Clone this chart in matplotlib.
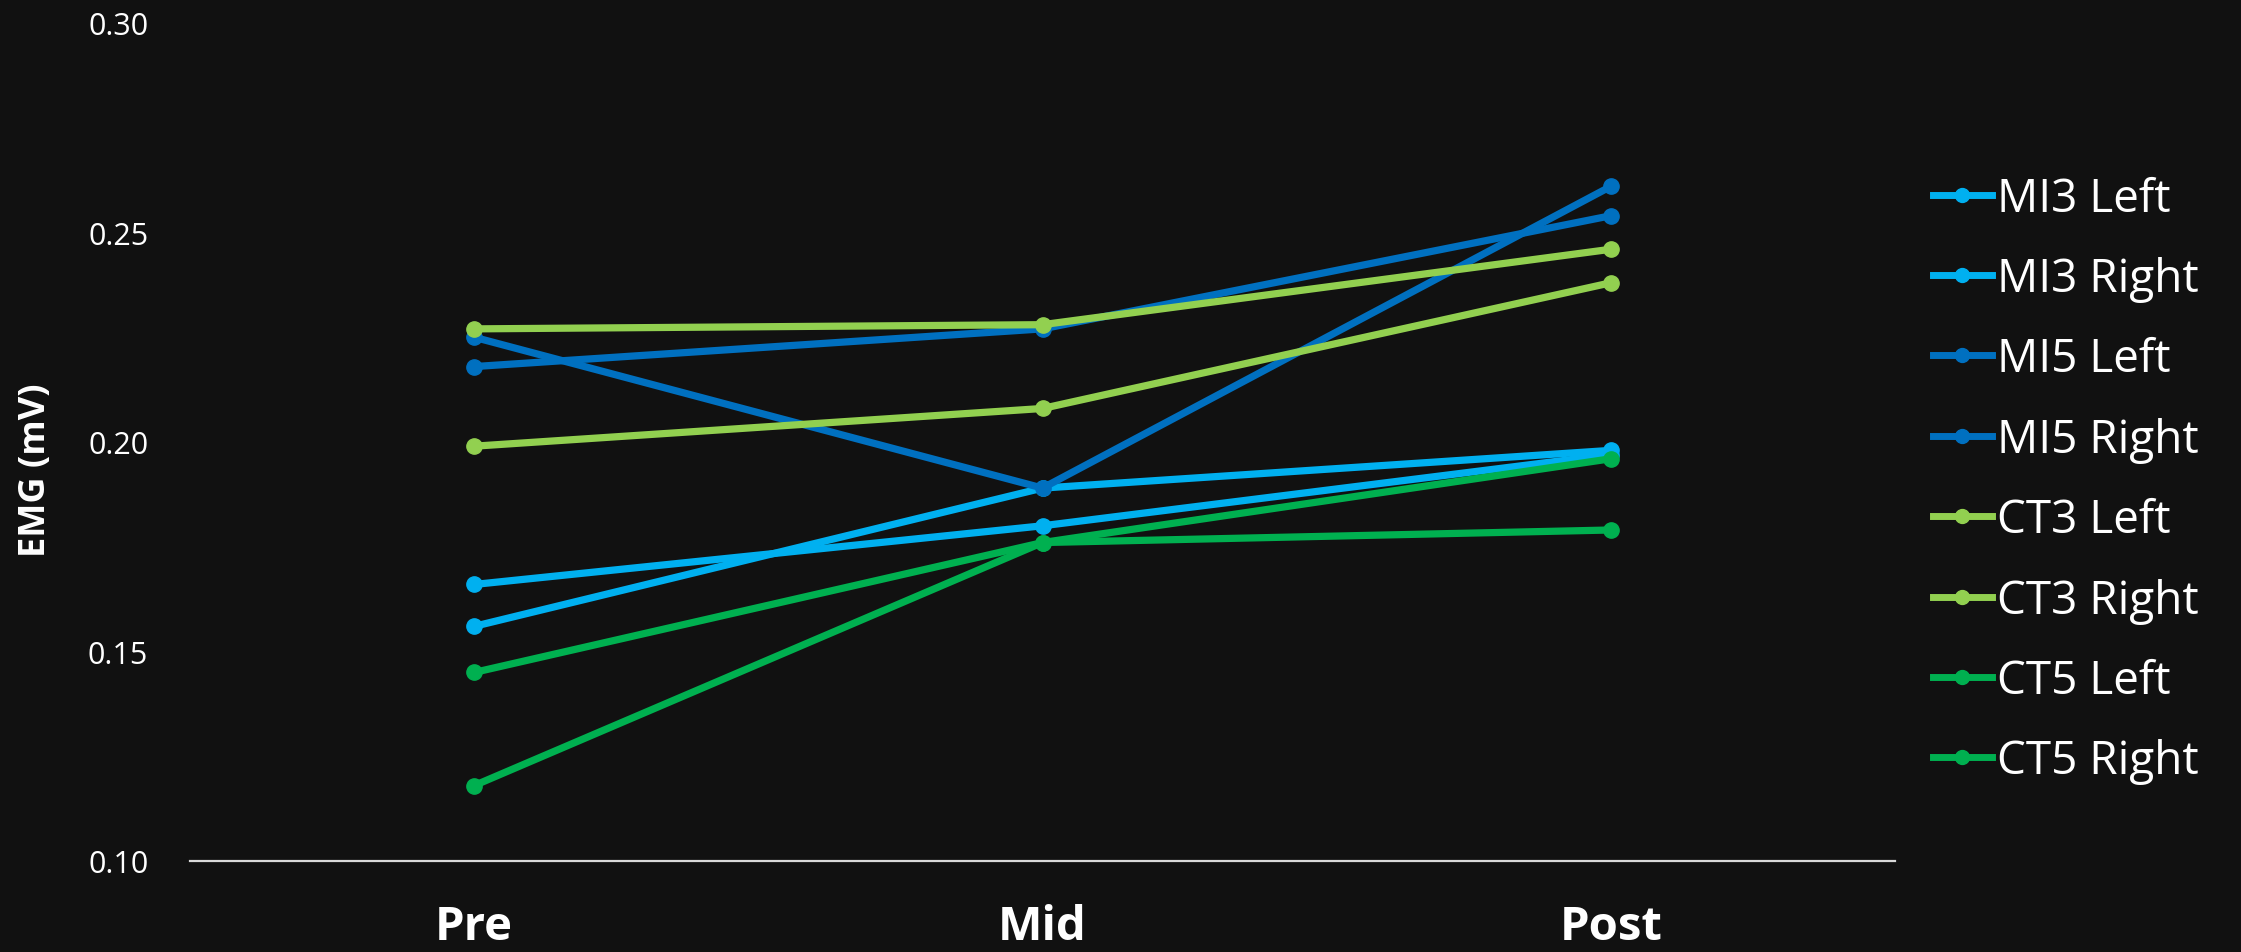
import matplotlib
matplotlib.use("Agg")
import matplotlib.pyplot as plt
from matplotlib.lines import Line2D

# EMG amplitude per session
categories = ["Pre", "Mid", "Post"]
series_names = ["MI3 Left", "MI3 Right", "MI5 Left", "MI5 Right",
                "CT3 Left", "CT3 Right", "CT5 Left", "CT5 Right"]
mi3_left = [0.166, 0.180, 0.197]
mi3_right = [0.156, 0.189, 0.198]
mi5_left = [0.225, 0.189, 0.261]
mi5_right = [0.218, 0.227, 0.254]
ct3_left = [0.227, 0.228, 0.246]
ct3_right = [0.199, 0.208, 0.238]
ct5_left = [0.145, 0.176, 0.196]
ct5_right = [0.118, 0.176, 0.179]
y_ticks = [0.10, 0.15, 0.20, 0.25, 0.30]

series_values = [mi3_left, mi3_right, mi5_left, mi5_right,
                 ct3_left, ct3_right, ct5_left, ct5_right]
colors = ["#00B0F0", "#00B0F0", "#0070C0", "#0070C0",
          "#92D050", "#92D050", "#00B050", "#00B050"]

BG = "#111111"
plt.rcParams["font.family"] = ["Open Sans", "DejaVu Sans"]

W, H = 2241, 953
fig = plt.figure(figsize=(W / 100, H / 100), dpi=100, facecolor=BG)
ax = fig.add_axes([190 / W, 1 - 862 / H, (1895 - 190) / W, (862 - 24) / H])
ax.set_facecolor(BG)

x = list(range(len(categories)))
for vals, col in zip(series_values, colors):
    ax.plot(x, vals, color=col, lw=5.2, marker="o", ms=11,
            solid_capstyle="round", zorder=3)

ax.set_xlim(-0.5, len(categories) - 0.5)
ax.set_ylim(0.10, 0.30)
ax.set_xticks(x)
ax.set_xticklabels(categories, fontsize=34, fontweight="bold", color="white")
ax.set_yticks(y_ticks)
ax.set_yticklabels([f"{t:.2f}" for t in y_ticks], fontsize=22, color="white")
ax.tick_params(axis="x", length=0, pad=30)
ax.tick_params(axis="y", length=0, pad=30)

for side in ["top", "right", "left"]:
    ax.spines[side].set_visible(False)
ax.spines["bottom"].set_color("#d9d9d9")
ax.spines["bottom"].set_linewidth(1.6)

fig.text(36 / W, 1 - 470 / H, "EMG (mV)", rotation=90, ha="center", va="center",
         fontsize=26, fontweight="bold", color="white")

handles = [Line2D([0], [0], color=c, lw=5, marker="o", ms=10) for c in colors]
fig.legend(handles, series_names, loc="center left",
           bbox_to_anchor=(1933 / W, 1 - 481 / H),
           bbox_transform=fig.transFigure, frameon=False, fontsize=33,
           labelcolor="white", handlelength=1.28, handletextpad=0.12,
           labelspacing=0.75, borderpad=0, borderaxespad=0)

fig.savefig("out.png", dpi=100, facecolor=BG)
